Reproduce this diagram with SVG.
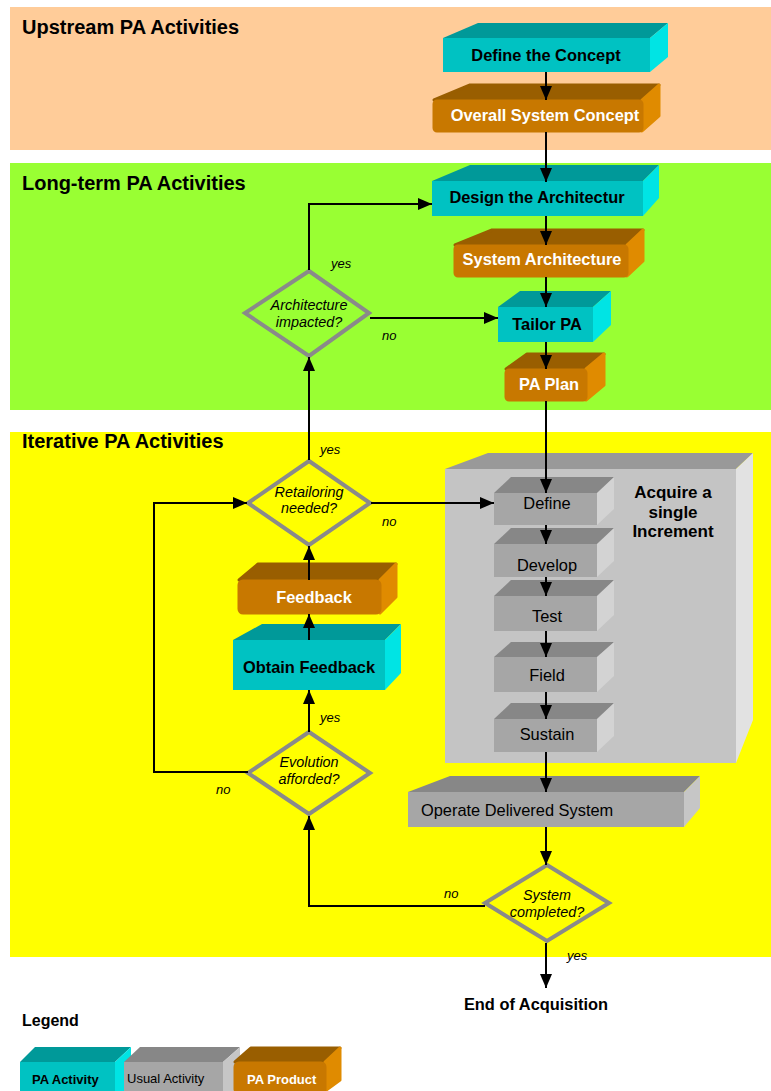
<svg xmlns="http://www.w3.org/2000/svg" width="771" height="1091" viewBox="0 0 771 1091">
  <style>
    .band-title { font-family: "Liberation Sans", Arial, sans-serif; font-weight: bold; font-size: 20px; fill: #000; }
    .lbl { font-family: "Liberation Sans", Arial, sans-serif; font-size: 16.4px; text-anchor: middle; }
    .b { font-weight: bold; }
    .dark { fill: #000; }
    .light { fill: #fff; }
    .q { font-family: "Liberation Sans", Arial, sans-serif; font-style: italic; font-size: 14.4px; text-anchor: middle; fill: #000; }
    .yn { font-family: "Liberation Sans", Arial, sans-serif; font-style: italic; font-size: 13px; fill: #000; }
    .pa-front { fill: #00C2C2; } .pa-top { fill: #009999; } .pa-side { fill: #00E4E4; }
    .pr-front { fill: #C87800; stroke: #C87800; stroke-width: 3; stroke-linejoin: round; }
    .pr-top { fill: #995E00; stroke: #995E00; stroke-width: 3; stroke-linejoin: round; }
    .pr-side { fill: #E08B00; stroke: #E08B00; stroke-width: 3; stroke-linejoin: round; }
    .us-front { fill: #A6A6A6; } .us-top { fill: #878787; } .us-side { fill: #C6C6C6; }
    .big-front { fill: #C4C4C4; } .big-top { fill: #999999; } .big-side { fill: #E2E2E2; }
    .diamond { fill: none; stroke: #8A8A8A; stroke-width: 4; }
    .conn { fill: none; stroke: #000; stroke-width: 2; }
    .legend-txt { font-family: "Liberation Sans", Arial, sans-serif; font-size: 13px; }
  </style>
  <defs>
    <marker id="arrow" viewBox="0 0 14 12" refX="14" refY="6" markerWidth="14" markerHeight="12" markerUnits="userSpaceOnUse" orient="auto">
      <path d="M0,0 L14,6 L0,12 z" fill="#000"/>
    </marker>
  </defs>

  <!-- swim bands -->
  <g id="bands">
    <rect x="10" y="7" width="761" height="143" fill="#FFCC99"/>
    <rect x="10" y="163" width="761" height="247" fill="#99FF33"/>
    <rect x="10" y="432" width="761" height="525" fill="#FFFF00"/>
    <text class="band-title" x="22" y="34">Upstream PA Activities</text>
    <text class="band-title" x="22" y="190">Long-term PA Activities</text>
    <text class="band-title" x="22" y="448">Iterative PA Activities</text>
  </g>

  <!-- single increment container -->
  <g id="acquire-increment">
    <polygon class="big-top" points="445,469 488,453 753,453 736,469"/>
    <polygon class="big-side" points="736,469 753,453 753,720 736,763"/>
    <rect class="big-front" x="445" y="469" width="291" height="294"/>
    <text class="lbl b dark" x="673" y="498" style="font-size:17px">Acquire a</text>
    <text class="lbl b dark" x="673" y="518" style="font-size:17px">single</text>
    <text class="lbl b dark" x="673" y="537" style="font-size:17px">Increment</text>
  </g>

  <g id="define-concept">
    <polygon class="pa-top" points="443,38 478,23 668,23 650,38"/>
    <polygon class="pa-side" points="650,38 668,23 668,57 650,72"/>
    <rect class="pa-front" x="443" y="38" width="207" height="34"/>
    <text class="lbl b dark" x="546" y="61">Define the Concept</text>
  </g>

  <g id="overall-system-concept">
    <polygon class="pr-top" points="434,100 470,85 659,85 642,100"/>
    <polygon class="pr-side" points="642,100 659,85 659,116 642,131"/>
    <rect class="pr-front" x="434" y="101" width="208" height="30" rx="3"/>
    <text class="lbl b light" x="545" y="121">Overall System Concept</text>
  </g>

  <g id="design-architecture">
    <polygon class="pa-top" points="432,181 470,165 659,165 643,181"/>
    <polygon class="pa-side" points="643,181 659,165 659,198 643,216"/>
    <rect class="pa-front" x="432" y="181" width="211" height="35"/>
    <text class="lbl b dark" x="537" y="203">Design the Architectur</text>
  </g>

  <g id="system-architecture">
    <polygon class="pr-top" points="455,245 492,230 643,230 627,245"/>
    <polygon class="pr-side" points="627,245 643,230 643,261 627,276"/>
    <rect class="pr-front" x="455" y="246" width="172" height="30" rx="3"/>
    <text class="lbl b light" x="542" y="265">System Architecture</text>
  </g>

  <g id="tailor-pa">
    <polygon class="pa-top" points="498,307 520,291 611,291 593,307"/>
    <polygon class="pa-side" points="593,307 611,291 611,325 593,342"/>
    <rect class="pa-front" x="498" y="307" width="95" height="35"/>
    <text class="lbl b dark" x="547" y="330">Tailor PA</text>
  </g>

  <g id="pa-plan">
    <polygon class="pr-top" points="506,369 527,354 604,354 586,369"/>
    <polygon class="pr-side" points="586,369 604,354 604,385 586,400"/>
    <rect class="pr-front" x="506" y="370" width="80" height="30" rx="3"/>
    <text class="lbl b light" x="549" y="390">PA Plan</text>
  </g>

  <!-- increment steps -->
  <g id="step-define">
    <polygon class="us-top" points="494,493 511,477 614,477 597,493"/>
    <polygon class="big-side" points="597,493 614,477 614,509 597,525" opacity="0.5"/>
    <rect class="us-front" x="494" y="493" width="103" height="32"/>
    <text class="lbl dark" x="547" y="509">Define</text>
  </g>
  <g id="step-develop">
    <polygon class="us-top" points="494,544 511,528 614,528 597,544"/>
    <polygon class="big-side" points="597,544 614,528 614,561 597,577" opacity="0.5"/>
    <rect class="us-front" x="494" y="544" width="103" height="33"/>
    <text class="lbl dark" x="547" y="571">Develop</text>
  </g>
  <g id="step-test">
    <polygon class="us-top" points="494,596 511,580 614,580 597,596"/>
    <polygon class="big-side" points="597,596 614,580 614,615 597,631" opacity="0.5"/>
    <rect class="us-front" x="494" y="596" width="103" height="35"/>
    <text class="lbl dark" x="547" y="622">Test</text>
  </g>
  <g id="step-field">
    <polygon class="us-top" points="494,657 511,642 614,642 597,657"/>
    <polygon class="big-side" points="597,657 614,642 614,676 597,692" opacity="0.5"/>
    <rect class="us-front" x="494" y="657" width="103" height="35"/>
    <text class="lbl dark" x="547" y="681">Field</text>
  </g>
  <g id="step-sustain">
    <polygon class="us-top" points="494,719 511,703 614,703 597,719"/>
    <polygon class="big-side" points="597,719 614,703 614,736 597,752" opacity="0.5"/>
    <rect class="us-front" x="494" y="719" width="103" height="33"/>
    <text class="lbl dark" x="547" y="740">Sustain</text>
  </g>

  <g id="operate-system">
    <polygon class="us-top" points="408,792 450,776 700,776 684,792"/>
    <polygon class="us-side" points="684,792 700,776 700,808 684,827"/>
    <rect class="us-front" x="408" y="792" width="276" height="35"/>
    <text class="lbl dark" x="421" y="816" style="text-anchor:start">Operate Delivered System</text>
  </g>

  <g id="feedback">
    <polygon class="pr-top" points="239,580 258,564 396,564 380,580"/>
    <polygon class="pr-side" points="380,580 396,564 396,597 380,613"/>
    <rect class="pr-front" x="239" y="581" width="141" height="32" rx="4"/>
    <text class="lbl b light" x="314" y="603">Feedback</text>
  </g>

  <g id="obtain-feedback">
    <polygon class="pa-top" points="233,640 262,624 401,624 385,640"/>
    <polygon class="pa-side" points="385,640 401,624 401,673 385,690"/>
    <rect class="pa-front" x="233" y="640" width="152" height="50"/>
    <text class="lbl b dark" x="309" y="673">Obtain Feedback</text>
  </g>

  <!-- decisions -->
  <g id="architecture-impacted">
    <polygon class="diamond" points="309,271 369,313 309,356 245,313"/>
    <text class="q" x="309" y="310">Architecture</text>
    <text class="q" x="309" y="327">impacted?</text>
  </g>
  <g id="retailoring-needed">
    <polygon class="diamond" points="309,461 370,503 309,545 248,503"/>
    <text class="q" x="309" y="497">Retailoring</text>
    <text class="q" x="309" y="513">needed?</text>
  </g>
  <g id="evolution-afforded">
    <polygon class="diamond" points="309,732 370,773 309,814 248,773"/>
    <text class="q" x="309" y="767">Evolution</text>
    <text class="q" x="309" y="784">afforded?</text>
  </g>
  <g id="system-completed">
    <polygon class="diamond" points="547,865 609,903 547,941 485,903"/>
    <text class="q" x="547" y="900">System</text>
    <text class="q" x="547" y="917">completed?</text>
  </g>

  <g id="end-of-acquisition">
    <text class="lbl b dark" x="536" y="1010">End of Acquisition</text>
  </g>

  <!-- connectors -->
  <g id="connectors">
    <line class="conn" x1="546" y1="72" x2="546" y2="100" marker-end="url(#arrow)"/>
    <line class="conn" x1="546" y1="132" x2="546" y2="182" marker-end="url(#arrow)"/>
    <line class="conn" x1="546" y1="216" x2="546" y2="245" marker-end="url(#arrow)"/>
    <line class="conn" x1="546" y1="277" x2="546" y2="307" marker-end="url(#arrow)"/>
    <line class="conn" x1="546" y1="342" x2="546" y2="369" marker-end="url(#arrow)"/>
    <line class="conn" x1="546" y1="401" x2="546" y2="493" marker-end="url(#arrow)"/>
    <line class="conn" x1="546" y1="525" x2="546" y2="544" marker-end="url(#arrow)"/>
    <line class="conn" x1="546" y1="577" x2="546" y2="596" marker-end="url(#arrow)"/>
    <line class="conn" x1="546" y1="631" x2="546" y2="657" marker-end="url(#arrow)"/>
    <line class="conn" x1="546" y1="692" x2="546" y2="719" marker-end="url(#arrow)"/>
    <line class="conn" x1="546" y1="752" x2="546" y2="792" marker-end="url(#arrow)"/>
    <line class="conn" x1="546" y1="827" x2="546" y2="865" marker-end="url(#arrow)"/>
    <line class="conn" x1="546" y1="943" x2="546" y2="988" marker-end="url(#arrow)"/>
    <polyline class="conn" points="485,906 309,906 309,816" marker-end="url(#arrow)"/>
    <line class="conn" x1="309" y1="732" x2="309" y2="690" marker-end="url(#arrow)"/>
    <line class="conn" x1="309" y1="640" x2="309" y2="614" marker-end="url(#arrow)"/>
    <line class="conn" x1="309" y1="580" x2="309" y2="546" marker-end="url(#arrow)"/>
    <polyline class="conn" points="248,772 154,772 154,503 247,503" marker-end="url(#arrow)"/>
    <line class="conn" x1="371" y1="503" x2="494" y2="503" marker-end="url(#arrow)"/>
    <line class="conn" x1="309" y1="460" x2="309" y2="357" marker-end="url(#arrow)"/>
    <polyline class="conn" points="309,270 309,204 432,204" marker-end="url(#arrow)"/>
    <line class="conn" x1="370" y1="318" x2="498" y2="318" marker-end="url(#arrow)"/>
    <text class="yn" x="331" y="268">yes</text>
    <text class="yn" x="382" y="340">no</text>
    <text class="yn" x="320" y="454">yes</text>
    <text class="yn" x="382" y="526">no</text>
    <text class="yn" x="320" y="722">yes</text>
    <text class="yn" x="216" y="794">no</text>
    <text class="yn" x="444" y="898">no</text>
    <text class="yn" x="567" y="960">yes</text>
  </g>

  <!-- legend -->
  <g id="legend">
    <text x="22" y="1026" font-family="Liberation Sans, Arial, sans-serif" font-weight="bold" font-size="16">Legend</text>
    <polygon class="pa-top" points="20,1062 35,1047 131,1047 115,1062"/>
    <polygon class="pa-side" points="115,1062 131,1047 131,1091 115,1091"/>
    <rect class="pa-front" x="20" y="1062" width="95" height="29"/>
    <text class="legend-txt" x="32" y="1084" font-weight="bold">PA Activity</text>
    <polygon class="us-top" points="124,1062 140,1047 240,1047 223,1062"/>
    <polygon class="us-side" points="223,1062 240,1047 240,1091 223,1091"/>
    <rect class="us-front" x="124" y="1062" width="99" height="29"/>
    <text class="legend-txt" x="127" y="1083">Usual Activity</text>
    <polygon class="pr-top" points="235,1062 251,1048 340,1048 325,1062"/>
    <polygon class="pr-side" points="325,1062 340,1048 340,1080 325,1091"/>
    <rect class="pr-front" x="235" y="1063" width="90" height="30" rx="4"/>
    <text class="legend-txt" x="247" y="1084" font-weight="bold" fill="#fff">PA Product</text>
  </g>
</svg>
